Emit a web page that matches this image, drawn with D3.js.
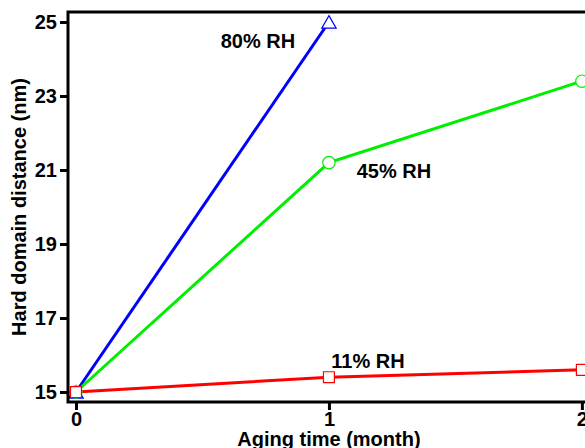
<!DOCTYPE html>
<html>
<head>
<meta charset="utf-8">
<script src="https://cdn.jsdelivr.net/npm/d3@7"></script>
<style>
  body { margin: 0; background: #fff; }
  text { font-family: "Liberation Sans", Arial, sans-serif; font-weight: bold; }
</style>
</head>
<body>
<div id="chart"></div>
<script>
const months = [0, 1, 2];
const rh80 = [15, 25];
const rh45 = [15, 21.2, 23.4];
const rh11 = [15, 15.4, 15.6];
const yTicks = [15, 17, 19, 21, 23, 25];
const xTicks = [0, 1, 2];

const width = 585,
  height = 448;

const x = d3.scaleLinear().domain([-0.0316, 2.04]).range([68, 592]);
const y = d3.scaleLinear().domain([14.73, 25.27]).range([402, 12]);

const svg = d3
  .select("#chart")
  .append("svg")
  .attr("width", width)
  .attr("height", height);

// series
const series = [
  { name: "80% RH", values: rh80, color: "#0000ff", shape: d3.symbolTriangle, lx: 258, ly: 48 },
  { name: "45% RH", values: rh45, color: "#00ee00", shape: d3.symbolCircle, lx: 394, ly: 178 },
  { name: "11% RH", values: rh11, color: "#ff0000", shape: d3.symbolSquare, lx: 368, ly: 368 },
];

const line = d3
  .line()
  .x((d, i) => x(months[i]))
  .y((d) => y(d));

series.forEach((s) => {
  svg
    .append("path")
    .attr("d", line(s.values))
    .attr("fill", "none")
    .attr("stroke", s.color)
    .attr("stroke-width", 3);
});

series.forEach((s) => {
  svg
    .append("g")
    .selectAll("path")
    .data(s.values)
    .enter()
    .append("path")
    .attr("transform", (d, i) => `translate(${x(months[i])},${y(d) + (s.shape === d3.symbolTriangle ? 2 : 0)})`)
    .attr("d", d3.symbol().type(s.shape).size(s.shape === d3.symbolTriangle ? 90 : 120))
    .attr("fill", "#fff")
    .attr("stroke", s.color)
    .attr("stroke-width", 1.2);
});

series.forEach((s) => {
  svg
    .append("text")
    .attr("x", s.lx)
    .attr("y", s.ly)
    .attr("text-anchor", "middle")
    .attr("font-size", 20)
    .attr("fill", "#000")
    .text(s.name);
});

// frame
svg
  .append("rect")
  .attr("x", x(x.domain()[0]))
  .attr("y", y(y.domain()[1]))
  .attr("width", x(x.domain()[1]) - x(x.domain()[0]))
  .attr("height", y(y.domain()[0]) - y(y.domain()[1]))
  .attr("fill", "none")
  .attr("stroke", "#000")
  .attr("stroke-width", 3);

// axes
const yAxis = svg
  .append("g")
  .attr("transform", `translate(${x(x.domain()[0])},0)`)
  .call(d3.axisLeft(y).tickValues(yTicks).tickSize(8).tickPadding(3).tickFormat(d3.format("d")));
const xAxis = svg
  .append("g")
  .attr("transform", `translate(0,${y(y.domain()[0])})`)
  .call(d3.axisBottom(x).tickValues(xTicks).tickSize(8).tickPadding(2).tickFormat(d3.format("d")));

[xAxis, yAxis].forEach((a) => {
  a.select(".domain").remove();
  a.selectAll(".tick line").attr("stroke", "#000").attr("stroke-width", 3);
  a.selectAll(".tick text").attr("font-size", 20).attr("fill", "#000");
});

svg
  .append("text")
  .attr("transform", `translate(26,${(y(y.domain()[0]) + y(y.domain()[1])) / 2}) rotate(-90)`)
  .attr("text-anchor", "middle")
  .attr("font-size", 20)
  .text("Hard domain distance (nm)");

svg
  .append("text")
  .attr("x", x(1))
  .attr("y", 446)
  .attr("text-anchor", "middle")
  .attr("font-size", 20)
  .text("Aging time (month)");
</script>
</body>
</html>
